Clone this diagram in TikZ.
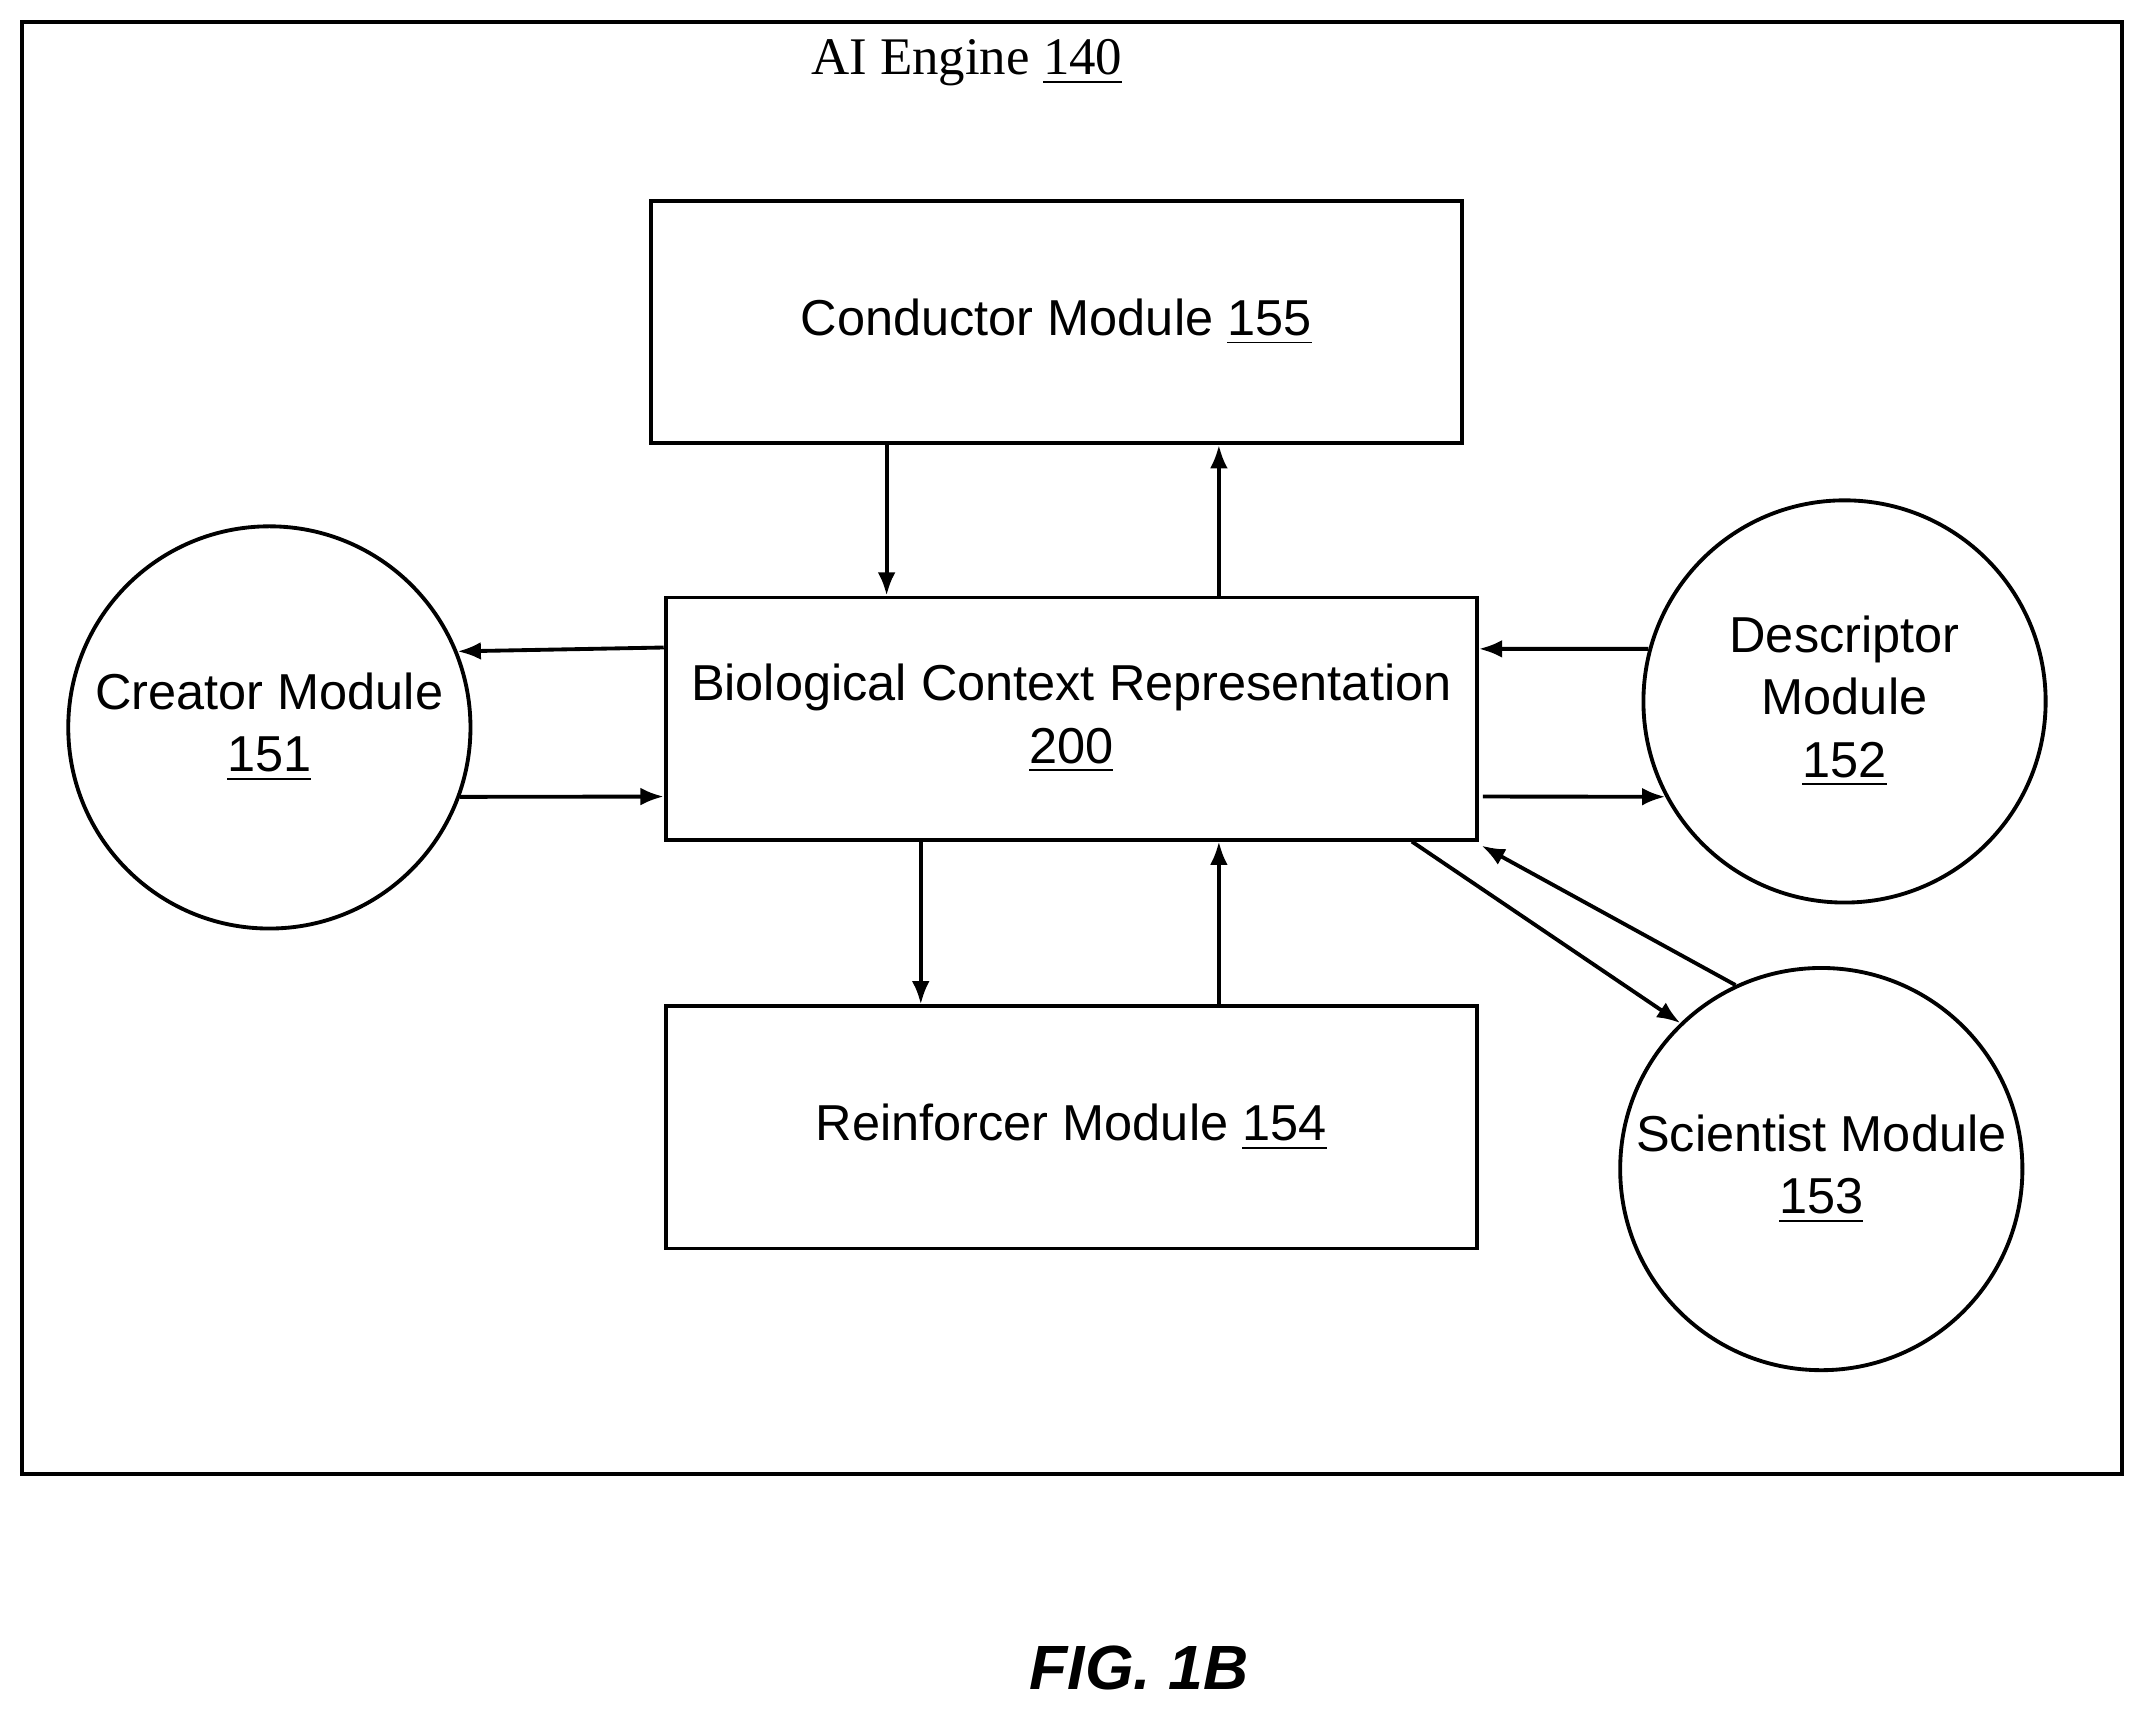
\documentclass[tikz,border=0pt]{standalone}
\usepackage{fontspec}
\setmainfont{Liberation Sans}
\newfontfamily\serifface{Liberation Serif}
\usetikzlibrary{arrows.meta,calc}
\tikzset{
  modbox/.style={draw,thick,minimum width=5.93cm,minimum height=1.77cm,align=center,font=\fontsize{10.5}{13}\selectfont},
  modcirc/.style={draw,thick,circle,minimum size=2.94cm,inner sep=0pt,align=center,font=\fontsize{10.5}{13}\selectfont},
  flow/.style={thick,-{Latex[length=0.17cm,width=0.13cm]}}
}
\begin{document}
\begin{tikzpicture}[x=0.01cm,y=-0.01cm]
\useasboundingbox (0,0) rectangle (1568,1251);
\draw[thick] (16,16) rectangle (1552,1078);
\node (title) at (707,46) {\serifface\fontsize{11}{13}\selectfont AI Engine \underline{140}};
\node[modbox] (cond) at (772.5,235.5) {Conductor Module \underline{155}};
\node[modbox] (bcr) at (783.5,525.5) {Biological Context Representation\\\underline{200}};
\node[modbox] (reinf) at (783.5,824.5) {Reinforcer Module \underline{154}};
\node[modcirc] (creator) at (197,532) {Creator Module\\\underline{151}};
\node[modcirc] (desc) at (1349,513) {Descriptor\\Module\\\underline{152}};
\node[modcirc] (sci) at (1332,855) {Scientist Module\\\underline{153}};
% conductor <-> representation
\draw[flow] ($(cond.south west)+(174,0)$) -- ($(bcr.north west)+(163,0)$);
\draw[flow] ($(bcr.north west)+(406,0)$) -- ($(cond.south west)+(417,0)$);
% creator
\draw[flow] ($(bcr.north west)+(0,38)$) -- (creator.22.8);
\draw[flow] (creator.-20.7) -- ($(bcr.north west)+(0,147)$);
% descriptor
\draw[flow] (desc.165.4) -- ($(bcr.north east)+(0,39)$);
\draw[flow] ($(bcr.north east)+(3,147)$) -- (desc.208.9);
% reinforcer
\draw[flow] ($(bcr.south west)+(188,0)$) -- ($(reinf.north west)+(188,0)$);
\draw[flow] ($(reinf.north west)+(406,0)$) -- ($(bcr.south west)+(406,0)$);
% scientist
\draw[flow] ($(bcr.south east)+(-49,0)$) -- (sci.134.7);
\draw[flow] (sci.115.4) -- ($(bcr.south east)+(2,3)$);
\node (fig) at (833,1220) {\fontsize{13}{15}\selectfont\bfseries\itshape FIG. 1B};
\end{tikzpicture}
\end{document}
